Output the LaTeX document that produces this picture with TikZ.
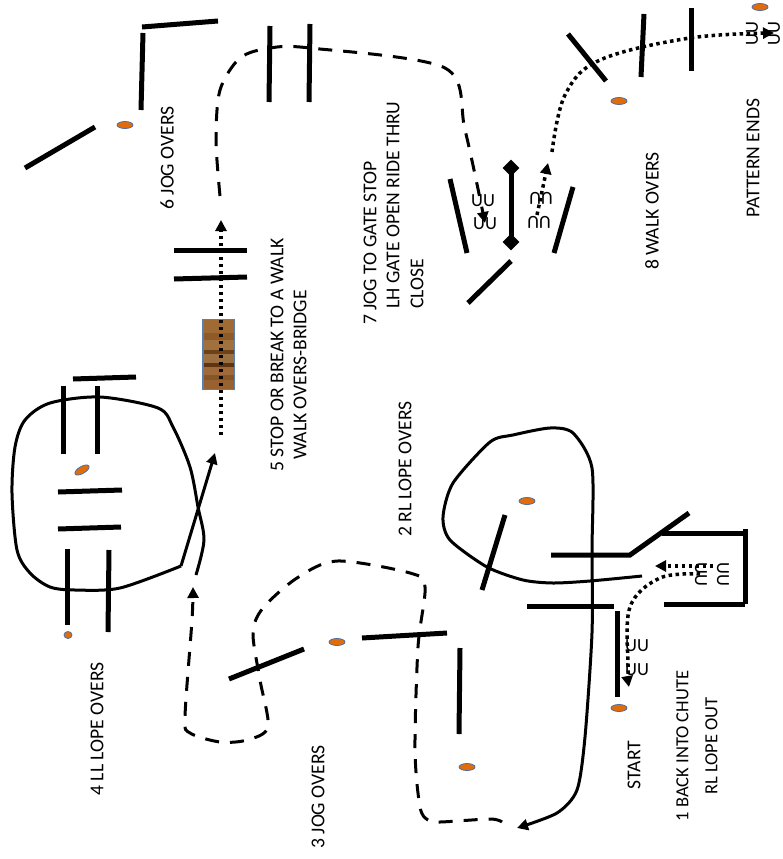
\documentclass[tikz,border=0pt]{standalone}
\usepackage{fontspec}
\setmainfont{Carlito}
\usetikzlibrary{arrows.meta,shapes.geometric}
\definecolor{dotfill}{HTML}{E36C0A}
\definecolor{dotline}{HTML}{4F6FA0}
\definecolor{bridgeedge}{HTML}{5B80B0}
\tikzset{
  bar/.style={line width=5pt,black},
  solidpath/.style={line width=3pt,black},
  dashpath/.style={line width=3pt,black,dash pattern=on 14pt off 11pt},
  dotpath/.style={line width=3.5pt,black,dash pattern=on 3.5pt off 3.5pt},
  tip/.style={-{Triangle[length=11pt,width=11pt]}},
  marker/.style={draw=dotline,fill=dotfill,line width=0.8pt},
  lab/.style={rotate=90,align=center,font=\fontsize{19.6}{29}\selectfont,inner sep=0pt},
  track/.style={font=\fontsize{18.5}{18.5}\selectfont,inner sep=0pt},
  dia/.style={diamond,fill=black,inner sep=0pt,minimum size=17pt},
}
\begin{document}
\begin{tikzpicture}[x=1pt,y=-1pt]
\useasboundingbox (0,0) rectangle (783,859);
% bridge
\fill[bridgeedge] (202,319) rectangle (235,390);
\foreach \a/\b/\c in {320/333/A06A35,333/340/8F5A28,340/350/A0713C,350/354/6E4218,354/363/9C7040,363/367/5E3510,367/375/A0693A,375/380/855728,380/389/97622F}{
  \definecolor{bandc}{HTML}{\c}
  \fill[bandc] (203.5,\a) rectangle (233.5,\b);
}
% bars
\foreach \ax/\ay/\bx/\by in {
 73/379/136/377, 63/386/63/454, 97/386/97/454, 58/492/122/490, 58/529/121/527,
 67/549/67/625, 109/550/108/632,
 505/515/482/590, 229/679/304/649, 362/638/447/633, 460/648/459/734,
 527/606/614/606, 617/611/617/697, 664/604/745/604, 745/529/745/604, 662/533/745/533,
 450/179/467/253, 573/187/554/253, 511/261/468/303, 511/168/511/242,
 143/33/141/110, 142/27/218/21, 25/168/95/127,
 270/26/269/102, 310/24/309/102,
 568/34/606/81, 644/14/641/77, 691/8/691/71,
 174/250/247/250, 174/279/247/277}
 {\draw[bar] (\ax,\ay) -- (\bx,\by);}
\draw[bar] (551,555) -- (630,555) -- (689,513);
\node[dia] (gatetop) at (511,168) {};
\node[dia] (gatebottom) at (511,242) {};
% markers
\foreach \x/\y in {125/125, 619/101, 760/7, 527/501, 467/767, 619/708, 337/642}
 {\fill[marker] (\x,\y) ellipse (8pt and 3.5pt);}
\draw[marker,rotate around={30:(82,470)}] (82,470) ellipse (8pt and 3.5pt);
\draw[marker] (68,635) ellipse (4pt and 3.5pt);
% tracks
\node[track] (t1) at (637,646) {UU};
\node[track] (t2) at (637,670) {UU};
\node[track,rotate=-90] (t3) at (701,574) {UU};
\node[track,rotate=-90] (t4) at (723,574) {UU};
\node[track] (t5) at (483,201) {UU};
\node[track] (t6) at (485,224) {UU};
\node[track,rotate=180] (t7) at (541,198) {UU};
\node[track,rotate=180] (t8) at (539,222) {UU};
\node[track,rotate=90] (t9) at (752,34) {UU};
\node[track,rotate=90] (t10) at (774,34) {UU};
% solid routes
\draw[solidpath,line join=round] plot[smooth,tension=.5] coordinates {(196,575) (204,540) (198,507) (190,467) (173,427) (158,408) (100,397) (50,403) (25,420) (15,447) (12,493) (17,550) (30,573) (50,587) (75,590) (120,588) (181,566)};
\draw[solidpath,tip] (181,566) -- (215,453);
\draw[solidpath,tip] plot[smooth,tension=.45] coordinates {(642,576) (590,581) (553,583) (523,580) (487,567) (450,540) (443,517) (453,483) (490,442) (513,435) (550,428) (573,433) (592,468) (592,550) (592,633) (585,737) (577,790) (557,813) (517,828)};
% dashed routes
\draw[dashpath,tip] plot[smooth,tension=.5] coordinates {(502,822) (490,819) (440,822) (428,820) (420,807) (415,750) (418,647) (425,587) (410,573) (337,561) (297,578) (263,608) (253,633) (260,680) (268,727) (247,740) (220,742) (190,733) (185,717) (192,620) (193,587)};
\draw[dashpath,tip] plot[smooth,tension=.5] coordinates {(220,196) (216,140) (220,90) (240,58) (270,48) (310,48) (445,68) (465,130) (485,223)};
% dotted routes
\draw[dotpath,tip] (221,435) -- (221,220);
\draw[dotpath,tip] (713,566) -- (655,566);
\draw[dotpath,tip] plot[smooth,tension=.6] coordinates {(700,574) (660,578) (630,607) (628,667) (629,687)};
\draw[dotpath,tip] (537,215) -- (548,163);
\draw[dotpath,tip] plot[smooth,tension=.6] coordinates {(552,152) (565,95) (600,60) (690,38) (774,33)};
% labels
\node[lab] (l4) at (97,729) {4 LL LOPE OVERS};
\node[lab] (l3) at (318,797) {3 JOG OVERS};
\node[lab] (l6) at (167,158) {6 JOG OVERS};
\node[lab] (l5a) at (277,355) {5 STOP OR BREAK TO A WALK};
\node[lab] (l5b) at (300,375) {WALK OVERS-BRIDGE};
\node[lab] (l7a) at (370,243) {7 JOG TO GATE STOP};
\node[lab] (l7b) at (393,205) {LH GATE OPEN RIDE THRU};
\node[lab] (l7c) at (417,284) {CLOSE};
\node[lab] (l2) at (405,469) {2 RL LOPE OVERS};
\node[lab] (l8) at (652,211) {8 WALK OVERS};
\node[lab] (lend) at (753,158) {PATTERN ENDS};
\node[lab] (lstart) at (634,765) {START};
\node[lab,font=\fontsize{18.5}{29}\selectfont] (l1) at (697,746) {1 BACK INTO CHUTE\\RL LOPE OUT};
\end{tikzpicture}
\end{document}
